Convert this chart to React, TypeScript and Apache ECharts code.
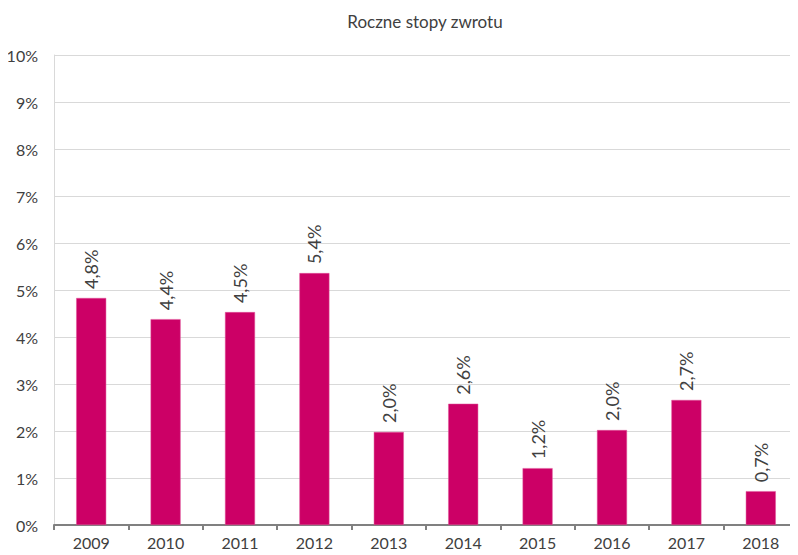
import React, { useEffect, useRef } from "react";
import * as echarts from "echarts";

const categories = ["2009", "2010", "2011", "2012", "2013", "2014", "2015", "2016", "2017", "2018"];
const returns = [4.83, 4.38, 4.53, 5.36, 1.98, 2.58, 1.21, 2.02, 2.66, 0.72];
const yTicks = [0, 1, 2, 3, 4, 5, 6, 7, 8, 9, 10];

const FONT = "Lato, 'Open Sans', sans-serif";
const TXT = "#404040";

export default function App() {
  const ref = useRef<HTMLDivElement>(null);
  useEffect(() => {
    if (!ref.current) return;
    const chart = echarts.init(ref.current, undefined, { renderer: "svg" });
    chart.setOption({
      animation: false,
      title: {
        text: "Roczne stopy zwrotu",
        left: 412,
        textAlign: "center",
        top: 0,
        textStyle: { fontFamily: FONT, fontSize: 17, fontWeight: "normal", color: TXT },
      },
      grid: { left: 46, right: 0, top: 47, bottom: 30, outerBoundsMode: "none", containLabel: false },
      xAxis: {
        type: "category",
        data: categories,
        axisLine: { lineStyle: { color: "#808080", width: 2 } },
        axisTick: { show: true, length: 5, lineStyle: { color: "#808080", width: 2 } },
        axisLabel: { fontFamily: FONT, fontSize: 16, color: TXT, margin: 9 },
      },
      yAxis: {
        type: "value",
        min: yTicks[0],
        max: yTicks[yTicks.length - 1],
        interval: 1,
        axisLine: { show: true, lineStyle: { color: "#d9d9d9", width: 1 } },
        axisTick: { show: false },
        splitLine: { lineStyle: { color: "#d9d9d9", width: 1 } },
        axisLabel: {
          fontFamily: FONT,
          fontSize: 16,
          color: TXT,
          margin: 16,
          formatter: (v: number) => `${v}%`,
        },
      },
      series: [
        {
          type: "bar",
          data: returns,
          barWidth: 30,
          itemStyle: { color: "#CC0066", borderColor: "#e0559b", borderWidth: 0.5 },
          label: {
            show: true,
            position: "top",
            rotate: 90,
            align: "left",
            verticalAlign: "middle",
            distance: 9,
            fontFamily: FONT,
            fontSize: 18,
            color: TXT,
            formatter: (p: any) => `${p.value.toFixed(1).replace(".", ",")}%`,
          },
        },
      ],
    });
    return () => chart.dispose();
  }, []);
  return <div ref={ref} style={{ width: 790, height: 547 }} />;
}
